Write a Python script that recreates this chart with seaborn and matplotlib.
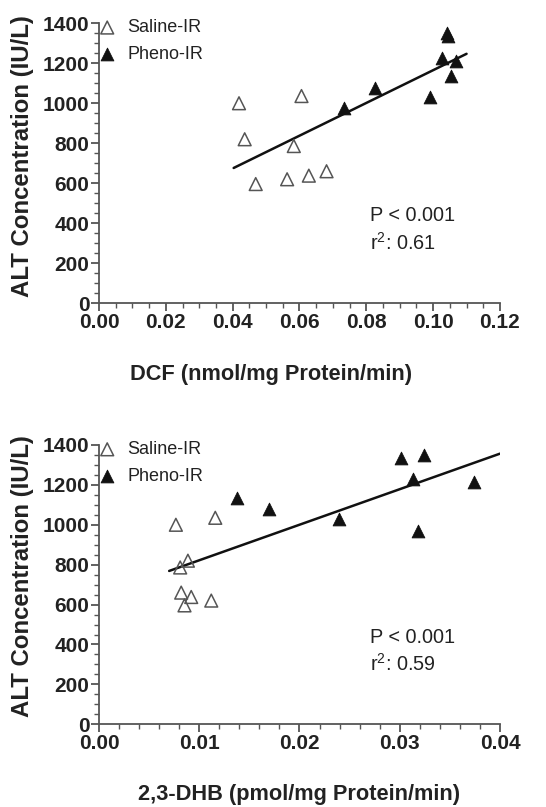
import numpy as np
import pandas as pd
import matplotlib
matplotlib.use("Agg")
import matplotlib.pyplot as plt
from matplotlib.ticker import MultipleLocator, FormatStrFormatter
import seaborn as sns

# ---------------- data ----------------
groups = ["Saline-IR", "Pheno-IR"]

saline_alt = [1000, 820, 596, 620, 786, 1036, 638, 660]
pheno_alt = [975, 1078, 1033, 1228, 1350, 1336, 1137, 1213]

saline_dcf = [0.0419, 0.0436, 0.0469, 0.0563, 0.0583, 0.0606, 0.0628, 0.0681]
pheno_dcf = [0.0733, 0.0825, 0.0991, 0.1027, 0.1040, 0.1045, 0.1054, 0.1067]

saline_dhb_alt = [1000, 1035, 786, 820, 660, 638, 596, 620]
saline_dhb = [0.00767, 0.0116, 0.0081, 0.00887, 0.0082, 0.0092, 0.00853, 0.0112]
pheno_dhb_alt = [1333, 1349, 1227, 1212, 1135, 1077, 1030, 970]
pheno_dhb = [0.0301, 0.0324, 0.0313, 0.0374, 0.0138, 0.0170, 0.0239, 0.0318]

fit_range_dcf = [0.0403, 0.1100]
fit_range_dhb = [0.0070, 0.0400]

stats_dcf = ["P < 0.001", "r$^2$: 0.61"]
stats_dhb = ["P < 0.001", "r$^2$: 0.59"]

xlabel_dcf = "DCF (nmol/mg Protein/min)"
xlabel_dhb = "2,3-DHB (pmol/mg Protein/min)"
ylabel = "ALT Concentration (IU/L)"

# ---------------- style ----------------
sns.set_theme(style="ticks")
plt.rcParams["font.family"] = ["Liberation Sans", "DejaVu Sans"]
plt.rcParams["mathtext.fontset"] = "custom"
plt.rcParams["mathtext.rm"] = "Liberation Sans"

fig = plt.figure(figsize=(5.46, 8.07), dpi=100)
ax1 = fig.add_axes([0.1813, 0.6242, 0.7344, 0.3470])
ax2 = fig.add_axes([0.1813, 0.1025, 0.7344, 0.3461])

axis_col = "#555555"
text_col = "#222222"
pt_col = "#555555"


def draw(ax, sx, sy, px, py, fit_range, stats, xlabel, xmax, xmajor, xminor,
         xlab_x, xlab_y, ylab_y):
    df_s = pd.DataFrame({"x": sx, "y": sy})
    df_p = pd.DataFrame({"x": px, "y": py})
    sns.scatterplot(data=df_s, x="x", y="y", marker="^", s=85,
                    color=pt_col, linewidth=1.1, ax=ax, label=groups[0], zorder=3)
    coll = ax.collections[-1]
    coll.set_facecolor("none")
    coll.set_edgecolor(pt_col)
    sns.scatterplot(data=df_p, x="x", y="y", marker="^", s=85,
                    color="#111111", edgecolor="#111111", linewidth=0.6,
                    ax=ax, label=groups[1], zorder=3)

    allx = np.array(list(sx) + list(px))
    ally = np.array(list(sy) + list(py))
    slope, icpt = np.polyfit(allx, ally, 1)
    fx = np.array(fit_range)
    df_fit = pd.DataFrame({"x": fx, "y": slope * fx + icpt})
    sns.lineplot(data=df_fit, x="x", y="y", color="#111111", linewidth=1.8,
                 ax=ax, zorder=2)

    ax.set_xlim(0, xmax)
    ax.set_ylim(0, 1400)
    ax.xaxis.set_major_locator(MultipleLocator(xmajor))
    ax.xaxis.set_minor_locator(MultipleLocator(xminor))
    ax.xaxis.set_major_formatter(FormatStrFormatter("%.2f"))
    ax.yaxis.set_major_locator(MultipleLocator(200))
    ax.yaxis.set_minor_locator(MultipleLocator(50))
    for sp in ["top", "right"]:
        ax.spines[sp].set_visible(False)
    for sp in ["left", "bottom"]:
        ax.spines[sp].set_color(axis_col)
        ax.spines[sp].set_linewidth(1.3)
    ax.tick_params(which="major", length=6, width=1.3, color=axis_col,
                   labelsize=15, labelcolor=text_col, pad=1)
    ax.tick_params(which="minor", length=3.5, width=1.0, color=axis_col)
    for lab in ax.get_xticklabels() + ax.get_yticklabels():
        lab.set_fontweight("bold")

    ax.set_xlabel(xlabel, fontsize=15.7, fontweight="bold", color=text_col,
                  va="center")
    ax.xaxis.set_label_coords(xlab_x, xlab_y)
    ax.set_ylabel(ylabel, fontsize=17.3, fontweight="bold", color=text_col,
                  va="center")
    ax.yaxis.set_label_coords(-0.19, ylab_y)

    ax.text(0.676, 0.312, stats[0], transform=ax.transAxes, fontsize=14.3,
            color=text_col, va="center", ha="left")
    ax.text(0.676, 0.215, stats[1], transform=ax.transAxes, fontsize=14.3,
            color=text_col, va="center", ha="left")

    leg = ax.legend(loc="upper left", bbox_to_anchor=(-0.02, 1.04), frameon=False,
                    fontsize=13, handletextpad=0.6, labelspacing=0.55,
                    handlelength=1.0, markerscale=1.0, borderaxespad=0)
    for t in leg.get_texts():
        t.set_color(text_col)


draw(ax1, saline_dcf, saline_alt, pheno_dcf, pheno_alt, fit_range_dcf,
     stats_dcf, xlabel_dcf, 0.12, 0.02, 0.005, 0.429, -0.256, 0.524)
draw(ax2, saline_dhb, saline_dhb_alt, pheno_dhb, pheno_dhb_alt, fit_range_dhb,
     stats_dhb, xlabel_dhb, 0.04, 0.01, 0.002, 0.5, -0.25, 0.529)

fig.savefig("out.png", dpi=100)
